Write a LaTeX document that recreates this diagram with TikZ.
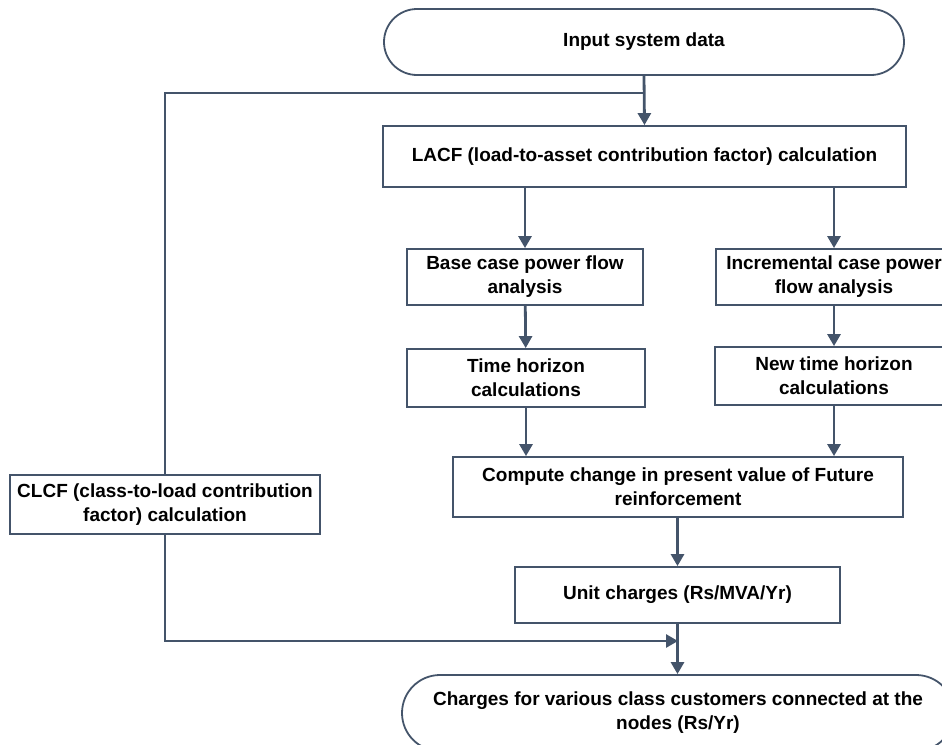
\documentclass[tikz,border=0pt]{standalone}
\usepackage{fontspec}
\setmainfont{Liberation Sans}
\usetikzlibrary{arrows.meta}
\definecolor{ln}{HTML}{44546A}
\begin{document}
\begin{tikzpicture}[x=1pt,y=-1pt,
  box/.style={draw=ln, line width=1.8pt, align=center, text=black,
    font=\bfseries\fontsize{19}{24}\selectfont, inner sep=0pt},
  conn/.style={draw=ln, line width=2.8pt},
  arr/.style={conn, -{Triangle[length=12pt,width=13pt]}}]
\useasboundingbox (0,0) rectangle (942,744);
\clip (0,0) rectangle (942,744);
\node[box, rounded corners=33pt, minimum width=520pt, minimum height=66pt] (in) at (644,42) {Input system data};
\node[box, minimum width=523pt, minimum height=61pt] (lacf) at (644.5,156.5) {LACF (load-to-asset contribution factor) calculation};
\node[box, minimum width=236pt, minimum height=56pt] (base) at (525,277) {Base case power flow\\analysis};
\node[box, minimum width=236pt, minimum height=56pt] (incr) at (834,277) {Incremental case power\\flow analysis};
\node[box, minimum width=238pt, minimum height=58pt] (time) at (526,378) {Time horizon\\calculations};
\node[box, minimum width=238pt, minimum height=58pt] (newtime) at (834,376) {New time horizon\\calculations};
\node[box, minimum width=450pt, minimum height=60pt] (comp) at (678,487) {Compute change in present value of Future\\reinforcement};
\node[box, minimum width=325pt, minimum height=56pt] (unit) at (677.5,595) {Unit charges (Rs/MVA/Yr)};
\node[box, minimum width=310pt, minimum height=59pt] (clcf) at (165,504.5) {CLCF (class-to-load contribution\\factor) calculation};
\node[box, rounded corners=38pt, minimum width=552pt, minimum height=76pt] (charges) at (678,713) {Charges for various class customers connected at the\\nodes (Rs/Yr)};
\coordinate (j1) at (644,93);
\coordinate (j2) at (678,641);
\draw[arr] (in.south) -- (lacf.north);
\draw[conn] (j1) -| (clcf.north);
\draw[arr] (lacf.south -| base.north) -- (base.north);
\draw[arr] (lacf.south -| incr.north) -- (incr.north);
\draw[arr] (base) -- (time);
\draw[arr] (incr) -- (newtime);
\draw[arr] (time.south) -- (time.south |- comp.north);
\draw[arr] (newtime.south) -- (newtime.south |- comp.north);
\draw[arr] (comp.south -| unit.north) -- (unit.north);
\draw[arr] (unit.south) -- (unit.south |- charges.north);
\draw[arr] (clcf.south) |- (j2);
\end{tikzpicture}
\end{document}
